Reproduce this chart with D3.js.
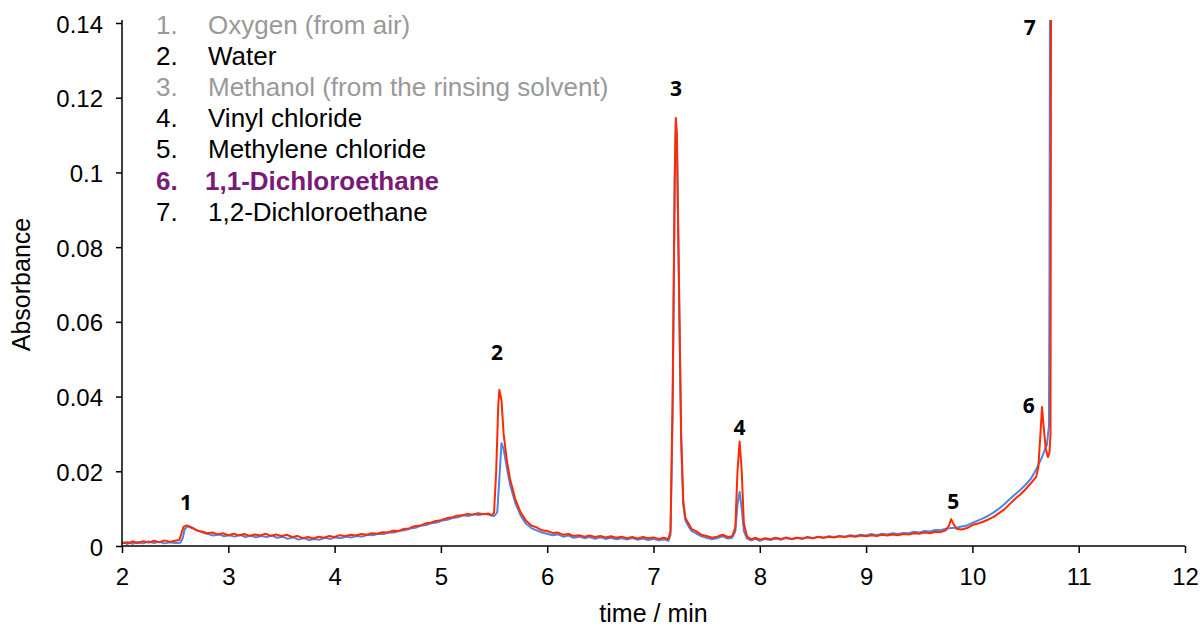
<!DOCTYPE html>
<html><head><meta charset="utf-8">
<script src="https://cdn.jsdelivr.net/npm/d3@7/dist/d3.min.js"></script>
<style>body{margin:0;background:#fff}svg{display:block}</style>
</head><body><svg id="c" width="1204" height="629"></svg>
<script>
const xTicks = [2,3,4,5,6,7,8,9,10,11,12];
const yTicks = [0,0.02,0.04,0.06,0.08,0.1,0.12,0.14];
const yTickLabels = ["0","0.02","0.04","0.06","0.08","0.1","0.12","0.14"];

const legendNums = ["1.","2.","3.","4.","5.","6.","7."];
const legendNames = ["Oxygen (from air)","Water","Methanol (from the rinsing solvent)","Vinyl chloride","Methylene chloride","1,1-Dichloroethane","1,2-Dichloroethane"];
const legendColors = ["#999999","#000000","#999999","#000000","#000000","#7a1a78","#000000"];
const legendBold = [false,false,false,false,false,true,false];

const peakNames = ["1","2","3","4","5","6","7"];
const peakT = [2.602,5.528,7.212,7.81,9.82,10.53,10.54];
const peakV = [0.0096,0.0498,0.1205,0.0297,0.0099,0.0356,0.1368];

const blueSeries = [[2.00,0.0007],[2.05,0.0011],[2.10,0.0006],[2.15,0.0010],[2.20,0.0007],[2.25,0.0012],[2.30,0.0008],[2.35,0.0011],[2.40,0.0007],[2.45,0.0010],[2.50,0.0008],[2.55,0.0009],[2.57,0.0020],[2.59,0.0045],[2.62,0.0054],[2.65,0.0051],[2.69,0.0044],[2.73,0.0039],[2.77,0.0035],[2.81,0.0032],[2.86,0.0028],[2.91,0.0031],[2.96,0.0026],[3.01,0.0029],[3.06,0.0025],[3.11,0.0030],[3.16,0.0024],[3.21,0.0028],[3.26,0.0023],[3.31,0.0027],[3.36,0.0024],[3.41,0.0028],[3.46,0.0022],[3.51,0.0025],[3.56,0.0019],[3.61,0.0023],[3.66,0.0017],[3.71,0.0021],[3.76,0.0016],[3.81,0.0019],[3.86,0.0017],[3.91,0.0022],[3.96,0.0019],[4.01,0.0023],[4.06,0.0021],[4.11,0.0025],[4.16,0.0023],[4.21,0.0027],[4.26,0.0025],[4.31,0.0030],[4.36,0.0029],[4.41,0.0033],[4.46,0.0032],[4.51,0.0036],[4.56,0.0036],[4.61,0.0041],[4.66,0.0042],[4.71,0.0047],[4.76,0.0049],[4.81,0.0054],[4.86,0.0056],[4.91,0.0061],[4.96,0.0063],[5.01,0.0068],[5.06,0.0070],[5.11,0.0075],[5.16,0.0077],[5.21,0.0082],[5.26,0.0080],[5.31,0.0085],[5.36,0.0083],[5.41,0.0086],[5.46,0.0083],[5.50,0.0080],[5.53,0.0090],[5.55,0.0180],[5.57,0.0275],[5.59,0.0260],[5.62,0.0210],[5.65,0.0165],[5.70,0.0115],[5.75,0.0082],[5.80,0.0060],[5.85,0.0048],[5.90,0.0042],[5.95,0.0036],[6.00,0.0033],[6.05,0.0029],[6.10,0.0031],[6.15,0.0025],[6.20,0.0028],[6.25,0.0022],[6.30,0.0025],[6.35,0.0021],[6.40,0.0024],[6.45,0.0019],[6.50,0.0023],[6.55,0.0019],[6.60,0.0022],[6.65,0.0018],[6.70,0.0021],[6.75,0.0017],[6.80,0.0021],[6.85,0.0017],[6.90,0.0020],[6.95,0.0016],[7.00,0.0019],[7.05,0.0015],[7.10,0.0018],[7.14,0.0014],[7.16,0.0030],[7.18,0.0350],[7.20,0.0980],[7.21,0.1130],[7.22,0.1090],[7.24,0.0680],[7.26,0.0280],[7.28,0.0110],[7.30,0.0068],[7.33,0.0052],[7.36,0.0040],[7.40,0.0034],[7.45,0.0026],[7.50,0.0022],[7.55,0.0018],[7.60,0.0021],[7.65,0.0026],[7.70,0.0020],[7.74,0.0022],[7.77,0.0040],[7.79,0.0110],[7.81,0.0145],[7.83,0.0100],[7.85,0.0040],[7.88,0.0020],[7.92,0.0015],[7.96,0.0019],[8.00,0.0014],[8.05,0.0019],[8.10,0.0016],[8.15,0.0020],[8.20,0.0017],[8.25,0.0021],[8.30,0.0018],[8.35,0.0022],[8.40,0.0019],[8.45,0.0023],[8.50,0.0021],[8.55,0.0024],[8.60,0.0022],[8.65,0.0026],[8.70,0.0024],[8.75,0.0027],[8.80,0.0025],[8.85,0.0029],[8.90,0.0027],[8.95,0.0030],[9.00,0.0028],[9.05,0.0032],[9.10,0.0029],[9.15,0.0033],[9.20,0.0031],[9.25,0.0034],[9.30,0.0032],[9.35,0.0035],[9.40,0.0034],[9.45,0.0038],[9.50,0.0036],[9.55,0.0040],[9.60,0.0039],[9.65,0.0043],[9.70,0.0042],[9.75,0.0046],[9.80,0.0048],[9.85,0.0049],[9.90,0.0052],[9.95,0.0055],[10.00,0.0062],[10.05,0.0068],[10.10,0.0074],[10.15,0.0081],[10.20,0.0090],[10.25,0.0100],[10.30,0.0112],[10.35,0.0125],[10.40,0.0138],[10.45,0.0150],[10.50,0.0164],[10.55,0.0180],[10.60,0.0205],[10.65,0.0235],[10.70,0.0270],[10.72,0.0320],[10.725,0.0700],[10.73,0.1500]];

const redSeries = [[2.00,0.0010],[2.05,0.0006],[2.10,0.0012],[2.15,0.0008],[2.20,0.0013],[2.25,0.0009],[2.30,0.0014],[2.35,0.0010],[2.40,0.0015],[2.45,0.0011],[2.50,0.0014],[2.54,0.0016],[2.56,0.0035],[2.58,0.0052],[2.61,0.0055],[2.64,0.0050],[2.68,0.0046],[2.72,0.0040],[2.76,0.0038],[2.80,0.0034],[2.85,0.0036],[2.90,0.0031],[2.95,0.0034],[3.00,0.0029],[3.05,0.0033],[3.10,0.0028],[3.15,0.0032],[3.20,0.0027],[3.25,0.0031],[3.30,0.0028],[3.35,0.0033],[3.40,0.0027],[3.45,0.0031],[3.50,0.0026],[3.55,0.0030],[3.60,0.0024],[3.65,0.0027],[3.70,0.0021],[3.75,0.0024],[3.80,0.0020],[3.85,0.0025],[3.90,0.0022],[3.95,0.0027],[4.00,0.0024],[4.05,0.0029],[4.10,0.0026],[4.15,0.0030],[4.20,0.0028],[4.25,0.0032],[4.30,0.0030],[4.35,0.0034],[4.40,0.0033],[4.45,0.0037],[4.50,0.0036],[4.55,0.0041],[4.60,0.0040],[4.65,0.0046],[4.70,0.0047],[4.75,0.0053],[4.80,0.0054],[4.85,0.0060],[4.90,0.0062],[4.95,0.0067],[5.00,0.0069],[5.05,0.0074],[5.10,0.0076],[5.15,0.0081],[5.20,0.0082],[5.25,0.0086],[5.30,0.0084],[5.35,0.0088],[5.40,0.0085],[5.45,0.0087],[5.48,0.0082],[5.50,0.0090],[5.52,0.0200],[5.54,0.0380],[5.55,0.0418],[5.57,0.0390],[5.59,0.0300],[5.62,0.0230],[5.65,0.0180],[5.70,0.0125],[5.75,0.0090],[5.80,0.0068],[5.85,0.0055],[5.90,0.0050],[5.95,0.0042],[6.00,0.0040],[6.05,0.0035],[6.10,0.0036],[6.15,0.0030],[6.20,0.0032],[6.25,0.0027],[6.30,0.0029],[6.35,0.0025],[6.40,0.0028],[6.45,0.0024],[6.50,0.0027],[6.55,0.0023],[6.60,0.0026],[6.65,0.0022],[6.70,0.0025],[6.75,0.0021],[6.80,0.0024],[6.85,0.0020],[6.90,0.0024],[6.95,0.0021],[7.00,0.0023],[7.05,0.0019],[7.10,0.0022],[7.14,0.0018],[7.16,0.0040],[7.18,0.0400],[7.20,0.1000],[7.21,0.1146],[7.22,0.1100],[7.24,0.0700],[7.26,0.0300],[7.28,0.0120],[7.30,0.0075],[7.33,0.0060],[7.36,0.0045],[7.40,0.0040],[7.45,0.0030],[7.50,0.0027],[7.55,0.0022],[7.60,0.0025],[7.65,0.0030],[7.70,0.0024],[7.74,0.0026],[7.77,0.0050],[7.79,0.0200],[7.81,0.0280],[7.83,0.0200],[7.85,0.0060],[7.88,0.0025],[7.92,0.0018],[7.96,0.0022],[8.00,0.0017],[8.05,0.0021],[8.10,0.0018],[8.15,0.0022],[8.20,0.0019],[8.25,0.0023],[8.30,0.0019],[8.35,0.0022],[8.40,0.0020],[8.45,0.0024],[8.50,0.0021],[8.55,0.0025],[8.60,0.0022],[8.65,0.0025],[8.70,0.0023],[8.75,0.0026],[8.80,0.0024],[8.85,0.0027],[8.90,0.0025],[8.95,0.0028],[9.00,0.0026],[9.05,0.0029],[9.10,0.0027],[9.15,0.0030],[9.20,0.0028],[9.25,0.0031],[9.30,0.0029],[9.35,0.0032],[9.40,0.0031],[9.45,0.0034],[9.50,0.0033],[9.55,0.0036],[9.60,0.0034],[9.65,0.0038],[9.70,0.0037],[9.75,0.0042],[9.78,0.0055],[9.80,0.0072],[9.82,0.0060],[9.85,0.0046],[9.90,0.0044],[9.95,0.0048],[10.00,0.0056],[10.05,0.0060],[10.10,0.0065],[10.15,0.0071],[10.20,0.0078],[10.25,0.0088],[10.30,0.0098],[10.35,0.0112],[10.40,0.0126],[10.45,0.0138],[10.50,0.0152],[10.55,0.0168],[10.60,0.0185],[10.62,0.0210],[10.64,0.0300],[10.655,0.0372],[10.67,0.0320],[10.69,0.0260],[10.71,0.0238],[10.725,0.0250],[10.735,0.0300],[10.74,0.1500]];

const W = 1204, H = 629;
const m = {left:122, right:19, top:23, bottom:83};
const svg = d3.select("#c");
const x = d3.scaleLinear().domain([2,12]).range([m.left, W - m.right]);
const y = d3.scaleLinear().domain([0,0.14]).range([H - m.bottom, m.top]);
const font = "'Liberation Sans', Arial, Helvetica, sans-serif";

svg.append("defs").append("clipPath").attr("id","clip")
  .append("rect").attr("x", m.left).attr("y", y(0.14) - 3)
  .attr("width", W - m.left - m.right).attr("height", y(0) - y(0.14) + 3);

const line = d3.line().x(d => x(d[0])).y(d => y(d[1]));
const g = svg.append("g").attr("clip-path","url(#clip)");
g.append("path").datum(blueSeries).attr("d", line)
  .attr("fill","none").attr("stroke","#4a85ea").attr("stroke-width",2).attr("stroke-linejoin","round");
g.append("path").datum(redSeries).attr("d", line)
  .attr("fill","none").attr("stroke","#ff2a00").attr("stroke-width",2).attr("stroke-linejoin","round");

// axes
const xAxis = svg.append("g").attr("transform",`translate(0,${y(0)})`)
  .call(d3.axisBottom(x).tickValues(xTicks).tickSize(7).tickPadding(15).tickFormat(d3.format("d")));
const yAxis = svg.append("g").attr("transform",`translate(${m.left},0)`)
  .call(d3.axisLeft(y).tickValues(yTicks).tickSize(6).tickPadding(13).tickFormat((d,i) => yTickLabels[i]));
[xAxis, yAxis].forEach(a => {
  a.select(".domain").attr("stroke","#000").attr("stroke-width",1.5);
  a.selectAll(".tick line").attr("stroke","#000").attr("stroke-width",1.5);
  a.selectAll(".tick text").attr("font-family", font).attr("font-size", 24).attr("fill","#000");
});
yAxis.selectAll(".tick text").attr("dy","0.38em");
yAxis.select(".domain").attr("d", `M-0,${y(0)}V${y(0.14)-3}`);
xAxis.select(".domain").attr("d", `M${x(2)},0H${x(12)}`);

svg.append("text").attr("x", (x(2)+x(12))/2).attr("y", 622).attr("text-anchor","middle")
  .attr("font-family", font).attr("font-size", 25).text("time / min");
svg.append("text").attr("transform", `translate(30,${(y(0)+y(0.14))/2}) rotate(-90)`)
  .attr("text-anchor","middle").attr("font-family", font).attr("font-size", 25).text("Absorbance");

// legend
const leg = svg.append("g");
legendNames.forEach((name, i) => {
  const yy = 34 + i * 31.1;
  leg.append("text").attr("x", 156).attr("y", yy).attr("font-family", font).attr("font-size", 26)
    .attr("font-weight", legendBold[i] ? "bold" : "normal").attr("fill", legendColors[i]).text(legendNums[i]);
  leg.append("text").attr("x", legendBold[i] ? 205 : 208).attr("y", yy).attr("font-family", font).attr("font-size", 26)
    .attr("font-weight", legendBold[i] ? "bold" : "normal").attr("fill", legendColors[i]).text(name);
});

// peak labels
peakNames.forEach((n, i) => {
  svg.append("text").attr("x", x(peakT[i])).attr("y", y(peakV[i])).attr("text-anchor","middle")
    .attr("font-family","'Open Sans', 'DejaVu Sans', sans-serif").attr("font-weight","bold").attr("font-size",21)
    .attr("fill","#000").text(n);
});
</script></body></html>
